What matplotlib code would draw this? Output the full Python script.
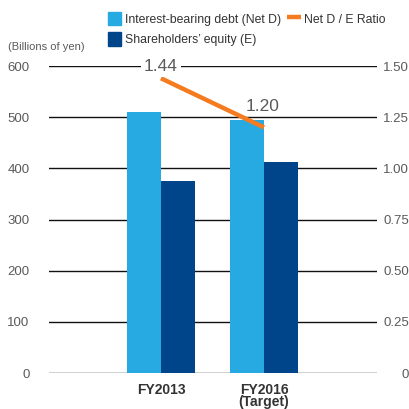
import matplotlib
matplotlib.use("Agg")
import matplotlib.pyplot as plt
from matplotlib.lines import Line2D
from matplotlib.patches import Patch
from matplotlib import font_manager

plt.rcParams['font.family'] = ['Liberation Sans', 'DejaVu Sans']

categories = ["FY2013", "FY2016\n(Target)"]
net_debt = [510, 494]
equity = [376, 413]
de_ratio = [1.44, 1.20]
left_ticks = [0, 100, 200, 300, 400, 500, 600]
right_ticks = [0, 0.25, 0.50, 0.75, 1.00, 1.25, 1.50]
right_labels = ["0", "0.25", "0.50", "0.75", "1.00", "1.25", "1.50"]

LIGHT = "#27a9e1"
DARK = "#00458a"
ORANGE = "#f47b20"
TXT = "#5a5a5a"

names = {f.name for f in font_manager.fontManager.ttflist}
legend_family = 'Liberation Sans Narrow' if 'Liberation Sans Narrow' in names else 'Liberation Sans'
legend_size = 10.2 if legend_family == 'Liberation Sans Narrow' else 8.8

fig = plt.figure(figsize=(4.10, 4.09), dpi=100)
ax = fig.add_axes([49 / 410, 36 / 409, 328 / 410, 307 / 409])

x = list(range(len(categories)))
w = 0.33
ax.bar([i - w / 2 for i in x], net_debt, width=w, color=LIGHT, zorder=2)
ax.bar([i + w / 2 for i in x], equity, width=w, color=DARK, zorder=2)

ax.set_xlim(-1.087, 2.097)
ax.set_ylim(0, 600)
ax.set_yticks(left_ticks)
ax.set_yticklabels([str(t) for t in left_ticks])
ax.grid(axis='y', color='#111111', linewidth=1.0, zorder=1)
ax.set_axisbelow(True)
ax.tick_params(axis='y', length=0, pad=14, labelsize=9.5, labelcolor=TXT)
ax.tick_params(axis='x', length=0, pad=7)
ax.set_xticks(x)
ax.set_xticklabels(categories, fontsize=10, fontweight='bold', color='#333333',
                   linespacing=0.85, va='top')
for s in ax.spines.values():
    s.set_visible(False)

ax2 = ax.twinx()
ax2.set_ylim(0, 1.5)
ax2.set_yticks(right_ticks)
ax2.set_yticklabels(right_labels)
ax2.tick_params(axis='y', length=0, pad=23, labelsize=9.5, labelcolor=TXT)
for lab in ax2.get_yticklabels():
    lab.set_horizontalalignment('right')
for s in ax2.spines.values():
    s.set_visible(False)

ax2.plot(x, de_ratio, color=ORANGE, linewidth=3.2, solid_capstyle='butt', zorder=4)
ax2.text(x[0], 1.5, f"{de_ratio[0]:.2f}", ha='center', va='center', fontsize=12.5,
         color=TXT, bbox=dict(facecolor='white', edgecolor='none', pad=2.5), zorder=5)
ax2.text(x[1] - 0.01, 1.30, f"{de_ratio[1]:.2f}", ha='center', va='center', fontsize=12.5,
         color=TXT, zorder=5)

fig.text(8 / 410, 1 - 47 / 409, "(Billions of yen)", fontsize=8, color=TXT,
         ha='left', va='center')

handles = [Patch(color=LIGHT), Patch(color=DARK),
           Line2D([], [], color=ORANGE, linewidth=3.2, solid_capstyle='butt'),
           Patch(color='none')]
labels = ["Interest-bearing debt (Net D)", "Shareholders\u2019 equity (E)",
          "Net D / E Ratio", ""]
leg = fig.legend(handles, labels, ncol=2, loc='upper left',
                 bbox_to_anchor=(108 / 410, 1 - 12 / 409), frameon=False,
                 prop={'family': legend_family, 'size': legend_size},
                 handlelength=1.1, handleheight=1.3,
                 handletextpad=0.3, columnspacing=0.5, labelspacing=0.55,
                 borderaxespad=0, borderpad=0)
for t in leg.get_texts():
    t.set_color('#333333')

fig.savefig("out.png", dpi=100)
